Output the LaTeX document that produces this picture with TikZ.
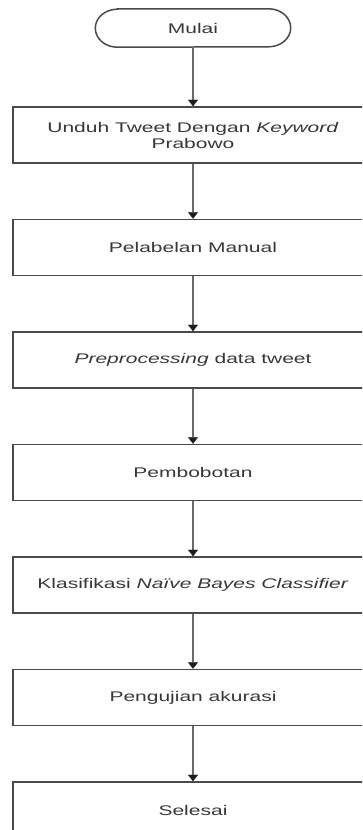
\documentclass[tikz,border=0pt]{standalone}
\usepackage{fontspec}
\setmainfont{Liberation Sans}[FakeStretch=1.5]
\usetikzlibrary{arrows.meta}
\definecolor{txt}{HTML}{383838}
\definecolor{edge}{HTML}{4A4A4A}
\definecolor{shaft}{HTML}{6A6A6A}
\definecolor{tipc}{HTML}{1E1E1E}
\begin{document}
\begin{tikzpicture}[x=1pt,y=1pt,
  lbl/.style={text=txt, font=\fontsize{14pt}{16pt}\selectfont, align=center, inner sep=0pt},
  stepbox/.style={lbl, draw=edge, line width=1.5pt, minimum width=360pt, minimum height=56pt},
  term/.style={lbl, minimum width=195pt, minimum height=38pt},
  termline/.style={draw=edge, line width=1.5pt},
  arr/.style={draw=shaft, line width=2.4pt, -{Triangle[width=10pt,length=6.5pt,line width=0.4pt,color=tipc]}}]
\useasboundingbox (0,0) rectangle (362,-830);
\clip (0,0) rectangle (362,-830);
\fill[white] (0,0) rectangle (362,-830);

\node[term] (start) at (193,-28) {Mulai};
\draw[termline] ([xshift=22pt]start.north west) -- ([xshift=-22pt]start.north east)
  arc[start angle=90, end angle=-90, x radius=22pt, y radius=19pt]
  -- ([xshift=22pt]start.south west)
  arc[start angle=270, end angle=90, x radius=22pt, y radius=19pt] -- cycle;

\node[stepbox] (b1) at (193,-135) {Unduh Tweet Dengan \textit{Keyword}\\Prabowo};
\node[stepbox] (b2) at (193,-247.5) {Pelabelan Manual};
\node[stepbox] (b3) at (193,-360) {\textit{Preprocessing} data tweet};
\node[stepbox] (b4) at (193,-472.5) {Pembobotan};
\node[stepbox] (b5) at (193,-585) {Klasifikasi \textit{Naïve Bayes Classifier}};
\node[stepbox] (b6) at (193,-697.5) {Pengujian akurasi};
\node[stepbox] (b7) at (193,-810) {Selesai};

\draw[arr] (start.south) -- (b1.north);
\draw[arr] (b1.south) -- (b2.north);
\draw[arr] (b2.south) -- (b3.north);
\draw[arr] (b3.south) -- (b4.north);
\draw[arr] (b4.south) -- (b5.north);
\draw[arr] (b5.south) -- (b6.north);
\draw[arr] (b6.south) -- (b7.north);
\end{tikzpicture}
\end{document}
